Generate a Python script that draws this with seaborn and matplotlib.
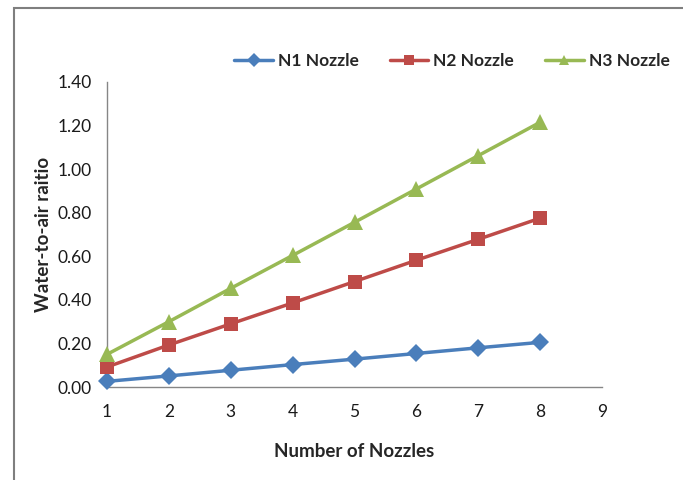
import matplotlib
matplotlib.use("Agg")
import matplotlib.pyplot as plt
from matplotlib.lines import Line2D
from matplotlib.patches import Rectangle
import pandas as pd
import seaborn as sns

nozzles = [1, 2, 3, 4, 5, 6, 7, 8]
n1 = [0.026, 0.051, 0.077, 0.103, 0.128, 0.154, 0.180, 0.205]
n2 = [0.092, 0.193, 0.290, 0.386, 0.484, 0.582, 0.678, 0.775]
n3 = [0.150, 0.300, 0.453, 0.604, 0.756, 0.909, 1.062, 1.215]
series_names = ["N1 Nozzle", "N2 Nozzle", "N3 Nozzle"]
y_ticks = [0.0, 0.2, 0.4, 0.6, 0.8, 1.0, 1.2, 1.4]
x_ticks = [1, 2, 3, 4, 5, 6, 7, 8, 9]

df = pd.DataFrame({
    "Number of Nozzles": nozzles * 3,
    "ratio": n1 + n2 + n3,
    "series": [s for s in series_names for _ in nozzles],
})

sns.set_style("white")
plt.rcParams["font.family"] = ["Lato", "DejaVu Sans"]

fig = plt.figure(figsize=(6.83, 4.80), dpi=100)
ax = fig.add_axes([0.1567, 0.1937, 0.8814 - 0.1567, 0.8292 - 0.1937])

palette = {"N1 Nozzle": "#4A7EBB", "N2 Nozzle": "#BE4B48", "N3 Nozzle": "#98B954"}
markers = {"N1 Nozzle": "D", "N2 Nozzle": "s", "N3 Nozzle": "^"}
sizes_ms = {"N1 Nozzle": 9.5, "N2 Nozzle": 9.5, "N3 Nozzle": 12}

for name in series_names:
    sub = df[df["series"] == name]
    sns.lineplot(data=sub, x="Number of Nozzles", y="ratio", ax=ax,
                 color=palette[name], marker=markers[name],
                 markersize=sizes_ms[name], markeredgewidth=0,
                 linewidth=2.5, legend=False, clip_on=False, zorder=3)

ax.set_xlim(1, 9)
ax.set_ylim(0, 1.4)
ax.set_xticks(x_ticks)
ax.set_yticks(y_ticks)
ax.set_yticklabels([f"{v:.2f}" for v in y_ticks])
for s in ["top", "right"]:
    ax.spines[s].set_visible(False)
for s in ["left", "bottom"]:
    ax.spines[s].set_color("#868686")
    ax.spines[s].set_linewidth(1.0)
ax.tick_params(axis="both", which="major", direction="out", length=5,
               width=1.0, color="#868686", labelsize=12.5, labelcolor="#1a1a1a")
ax.tick_params(axis="x", pad=7)
ax.tick_params(axis="y", pad=6)

ax.set_xlabel("Number of Nozzles", fontsize=13.5, fontweight="bold", labelpad=17)
ax.set_ylabel("Water-to-air raitio", fontsize=13.5, fontweight="bold", labelpad=4)

handles = [Line2D([], [], color=palette[n], marker=markers[n], markersize=7,
                  markeredgewidth=0, linewidth=2.5) for n in series_names]
ax.legend(handles, series_names, loc="center", bbox_to_anchor=(0.697, 1.069),
          ncol=3, frameon=False, prop={"weight": "bold", "size": 12.5},
          handlelength=2.2, handletextpad=0.3, columnspacing=1.8,
          borderaxespad=0, borderpad=0)

fig.patches.append(Rectangle((14 / 683, -0.05), 1.2, 1 - 8 / 480 + 0.05,
                             transform=fig.transFigure, fill=False,
                             edgecolor="#7f7f7f", linewidth=1.5, zorder=0))

fig.savefig("out.png", dpi=100)
